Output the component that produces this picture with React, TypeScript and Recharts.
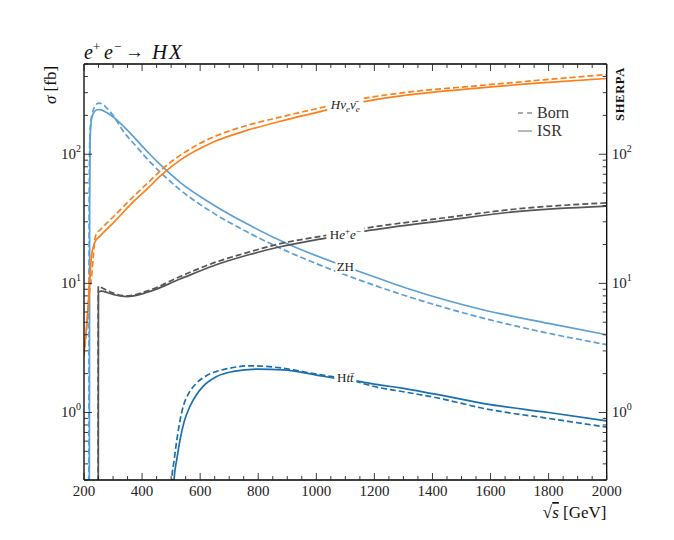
import React from 'react';
import { LineChart, Line, XAxis, YAxis, ReferenceDot, Customized } from 'recharts';

// ---- data: sqrt(s) [GeV] and sigma [fb] ----
const zhBornX = [216.5, 218, 220, 223, 228, 236, 245, 252, 262, 280, 300, 336, 380, 416, 473, 531, 646, 761, 876, 991, 1106, 1221, 1451, 1700, 2000];
const zhBornY = [0.05, 50, 130, 175, 205, 232, 246, 249, 245, 226, 200, 150, 115, 93, 69, 53, 35, 25.1, 18.7, 14.5, 11.5, 9.3, 6.4, 4.6, 3.35];

const zhIsrX = [218, 219.5, 221, 224, 228, 235, 245, 255, 270, 301, 359, 416, 473, 531, 646, 761, 910, 1100, 1221, 1336, 1566, 1800, 2000];
const zhIsrY = [0.05, 40, 130, 172, 195, 212, 221, 222, 215, 194, 146, 106, 79, 60.5, 40.5, 28.9, 19.8, 13.5, 10.8, 8.8, 6.3, 4.9, 4.0];

const hnnIsrX = [200, 205, 210, 215, 220, 226, 232, 238, 255, 278, 301, 324, 359, 416, 473, 531, 646, 761, 876, 1000, 1152, 1300, 1566, 1800, 2000];
const hnnIsrY = [2.9, 3.8, 5.0, 7.0, 11, 16.5, 19.2, 21, 23.2, 26.2, 29.4, 33.4, 40.5, 53.5, 71, 90, 124.5, 153, 180, 210, 253, 285, 327, 360, 386];

const hnnBornX = [200, 204, 209, 215, 220, 226, 232, 238, 244, 255, 301, 359, 416, 473, 531, 646, 761, 876, 1000, 1152, 1300, 1566, 1800, 2000];
const hnnBornY = [2.7, 3.4, 4.4, 7.0, 9.0, 11.2, 16.1, 22.4, 24.4, 25.9, 32.8, 44.5, 59, 78, 98, 136, 167, 194, 225, 268, 300, 341, 380, 415];

const heeIsrX = [249, 249.6, 260, 280, 300, 347, 416, 531, 646, 761, 876, 1037, 1163, 1451, 1680, 2000];
const heeIsrY = [0.05, 8.6, 8.7, 8.5, 8.2, 7.9, 8.5, 10.8, 13.7, 16.5, 19.2, 22.5, 25.3, 30.9, 35.8, 39.7];

const heeBornX = [248.6, 249.2, 260, 280, 300, 347, 416, 531, 646, 761, 876, 1037, 1163, 1451, 1680, 2000];
const heeBornY = [0.05, 9.5, 9.3, 8.8, 8.4, 8.0, 8.7, 11.3, 14.4, 17.3, 20.3, 23.6, 26.6, 32.4, 37.5, 42];

const httIsrX = [508, 510, 520, 531, 545, 565, 588, 611, 657, 715, 795, 887, 1000, 1060, 1140, 1221, 1290, 1400, 1600, 1800, 2000];
const httIsrY = [0.2, 0.3, 0.44, 0.62, 0.85, 1.12, 1.38, 1.6, 1.9, 2.08, 2.17, 2.14, 1.95, 1.85, 1.75, 1.63, 1.55, 1.4, 1.15, 1.0, 0.86];

const httBornX = [500, 502, 510, 520, 530, 542, 560, 588, 620, 657, 700, 772, 850, 887, 1000, 1100, 1221, 1290, 1400, 1600, 1800, 2000];
const httBornY = [0.2, 0.3, 0.42, 0.62, 0.85, 1.12, 1.4, 1.69, 1.92, 2.08, 2.2, 2.3, 2.25, 2.2, 1.98, 1.82, 1.55, 1.46, 1.32, 1.05, 0.9, 0.77];

// ---- ticks ----
const xMajorTicks = [200, 400, 600, 800, 1000, 1200, 1400, 1600, 1800, 2000];
const xAllTicks = [200, 250, 300, 350, 400, 450, 500, 550, 600, 650, 700, 750, 800, 850, 900, 950, 1000, 1050, 1100, 1150, 1200, 1250, 1300, 1350, 1400, 1450, 1500, 1550, 1600, 1650, 1700, 1750, 1800, 1850, 1900, 1950, 2000];
const yMajorTicks = [1, 10, 100];
const yMajorExp = ['0', '1', '2'];
const yAllTicks = [0.3, 0.4, 0.5, 0.6, 0.7, 0.8, 0.9, 1, 2, 3, 4, 5, 6, 7, 8, 9, 10, 20, 30, 40, 50, 60, 70, 80, 90, 100, 200, 300, 400, 500];

// curve labels (placed at data coordinates)
const labelX = 1100;
const labelHnnY = 240;
const labelHeeY = 23.7;
const labelZhY = 13.5;
const labelHttY = 1.86;

const zip = (xs: number[], ys: number[]) => xs.map((x, i) => ({ x, y: ys[i] }));

const ORANGE = '#fd7f1a';
const LBLUE = '#5b9fd4';
const GRAY = '#555555';
const DBLUE = '#1a6fae';
const SERIF = '"Liberation Serif", "DejaVu Serif", serif';
const TICKCOL = '#222';

const BottomTick = (p: any) => {
  const major = xMajorTicks.includes(p.payload.value);
  return (
    <g>
      <line x1={p.x} x2={p.x} y1={p.y} y2={p.y - (major ? 7 : 4)} stroke={TICKCOL} strokeWidth={0.9} />
      {major && (
        <text x={p.x} y={p.y + 16} textAnchor="middle" fontFamily={SERIF} fontSize={15} fill={TICKCOL}>
          {p.payload.value}
        </text>
      )}
    </g>
  );
};

const TopTick = (p: any) => {
  const major = xMajorTicks.includes(p.payload.value);
  return <line x1={p.x} x2={p.x} y1={p.y} y2={p.y + (major ? 7 : 4)} stroke={TICKCOL} strokeWidth={0.9} />;
};

const LeftTick = (p: any) => {
  const idx = yMajorTicks.indexOf(p.payload.value);
  const major = idx >= 0;
  return (
    <g>
      <line x1={p.x} x2={p.x + (major ? 8 : 4)} y1={p.y} y2={p.y} stroke={TICKCOL} strokeWidth={0.9} />
      {major && (
        <text x={p.x - 3} y={p.y + 5} textAnchor="end" fontFamily={SERIF} fontSize={15} fill={TICKCOL}>
          10<tspan dy={-7} fontSize={10}>{yMajorExp[idx]}</tspan>
        </text>
      )}
    </g>
  );
};

const RightTick = (p: any) => {
  const idx = yMajorTicks.indexOf(p.payload.value);
  const major = idx >= 0;
  return (
    <g>
      <line x1={p.x} x2={p.x - (major ? 8 : 4)} y1={p.y} y2={p.y} stroke={TICKCOL} strokeWidth={0.9} />
      {major && (
        <text x={p.x + 5} y={p.y + 5} textAnchor="start" fontFamily={SERIF} fontSize={15} fill={TICKCOL}>
          10<tspan dy={-7} fontSize={10}>{yMajorExp[idx]}</tspan>
        </text>
      )}
    </g>
  );
};

const makeLabel = (w: number, content: React.ReactNode) => (p: any) => (
  <g>
    <rect x={p.cx - w / 2} y={p.cy - 8} width={w} height={15} fill="#fff" />
    <text x={p.cx} y={p.cy + 4} textAnchor="middle" fontFamily={SERIF} fontSize={13} fill="#222">
      {content}
    </text>
  </g>
);

const Decorations = () => (
  <g fontFamily={SERIF} fill="#111">
    {/* title: e+ e- -> HX */}
    <text x={76} y={51} fontSize={20} fontStyle="italic">e</text>
    <text x={85} y={43} fontSize={13}>+</text>
    <text x={96} y={51} fontSize={20} fontStyle="italic">e</text>
    <text x={106} y={43} fontSize={13}>−</text>
    <text x={117} y={50} fontSize={19}>→</text>
    <text x={144} y={51} fontSize={21} fontStyle="italic">H</text>
    <text x={161} y={51} fontSize={21} fontStyle="italic">X</text>
    {/* y label */}
    <text x={0} y={0} transform="translate(48,77) rotate(-90)" textAnchor="middle" fontSize={17}>
      <tspan fontStyle="italic">σ</tspan> [fb]
    </text>
    {/* x label */}
    <text x={598.5} y={510} textAnchor="end" fontSize={17}>
      √<tspan fontStyle="italic" textDecoration="overline">s</tspan> [GeV]
    </text>
    {/* SHERPA */}
    <text x={0} y={0} transform="translate(616,86) rotate(-90)" textAnchor="middle" fontSize={12.5} fontWeight="bold" letterSpacing={0.7}>
      SHERPA
    </text>
    {/* legend */}
    <line x1={510} x2={524} y1={105} y2={105} stroke={GRAY} strokeWidth={1.2} strokeDasharray="5 4" />
    <text x={529} y={110} fontSize={16} fill="#333">Born</text>
    <line x1={510} x2={524} y1={123} y2={123} stroke="#888" strokeWidth={1.2} />
    <text x={529} y={128} fontSize={16} fill="#333">ISR</text>
  </g>
);

const lineProps = {
  dataKey: 'y',
  dot: false,
  activeDot: false,
  isAnimationActive: false,
  type: 'monotone' as const,
  strokeWidth: 1.7,
};

const axisCommon = {
  allowDataOverflow: true,
  interval: 0 as const,
  tickLine: false,
  tickSize: 0,
  tickMargin: 0,
  axisLine: { stroke: '#000', strokeWidth: 1.3 },
};

export default function App() {
  return (
    <LineChart width={658} height={524} margin={{ top: 55, right: 58.3, bottom: 51, left: 75 }}>
      <XAxis {...axisCommon} type="number" dataKey="x" domain={[200, 2000]} ticks={xAllTicks} tick={BottomTick} height={1} />
      <XAxis {...axisCommon} xAxisId="top" orientation="top" type="number" dataKey="x" domain={[200, 2000]} ticks={xAllTicks} tick={TopTick} height={1} />
      <YAxis {...axisCommon} scale="log" type="number" domain={[0.3, 500]} ticks={yAllTicks} tick={LeftTick} width={1} />
      <YAxis {...axisCommon} yAxisId="right" orientation="right" scale="log" type="number" domain={[0.3, 500]} ticks={yAllTicks} tick={RightTick} width={1} />
      <Line {...lineProps} data={zip(zhBornX, zhBornY)} stroke={LBLUE} strokeDasharray="6 3" />
      <Line {...lineProps} data={zip(zhIsrX, zhIsrY)} stroke={LBLUE} />
      <Line {...lineProps} data={zip(hnnBornX, hnnBornY)} stroke={ORANGE} strokeDasharray="6 3" />
      <Line {...lineProps} data={zip(hnnIsrX, hnnIsrY)} stroke={ORANGE} />
      <Line {...lineProps} data={zip(heeBornX, heeBornY)} stroke={GRAY} strokeDasharray="6 3" />
      <Line {...lineProps} data={zip(heeIsrX, heeIsrY)} stroke={GRAY} />
      <Line {...lineProps} data={zip(httBornX, httBornY)} stroke={DBLUE} strokeDasharray="6 3" />
      <Line {...lineProps} data={zip(httIsrX, httIsrY)} stroke={DBLUE} />
      <ReferenceDot
        x={labelX}
        y={labelHnnY}
        r={0}
        shape={makeLabel(36, (
          <tspan fontStyle="italic">
            Hν<tspan dy={3} fontSize={9}>e</tspan>
            <tspan dy={-3}>ν̄</tspan>
            <tspan dy={3} fontSize={9}>e</tspan>
          </tspan>
        ))}
      />
      <ReferenceDot
        x={labelX}
        y={labelHeeY}
        r={0}
        shape={makeLabel(38, (
          <>
            H<tspan fontStyle="italic">e</tspan>
            <tspan dy={-5} fontSize={9}>+</tspan>
            <tspan dy={5} fontStyle="italic">e</tspan>
            <tspan dy={-5} fontSize={9}>−</tspan>
          </>
        ))}
      />
      <ReferenceDot x={labelX} y={labelZhY} r={0} shape={makeLabel(20, 'ZH')} />
      <ReferenceDot
        x={labelX}
        y={labelHttY}
        r={0}
        shape={makeLabel(22, (
          <>
            H<tspan fontStyle="italic">tt̄</tspan>
          </>
        ))}
      />
      <Customized component={<Decorations />} />
    </LineChart>
  );
}
